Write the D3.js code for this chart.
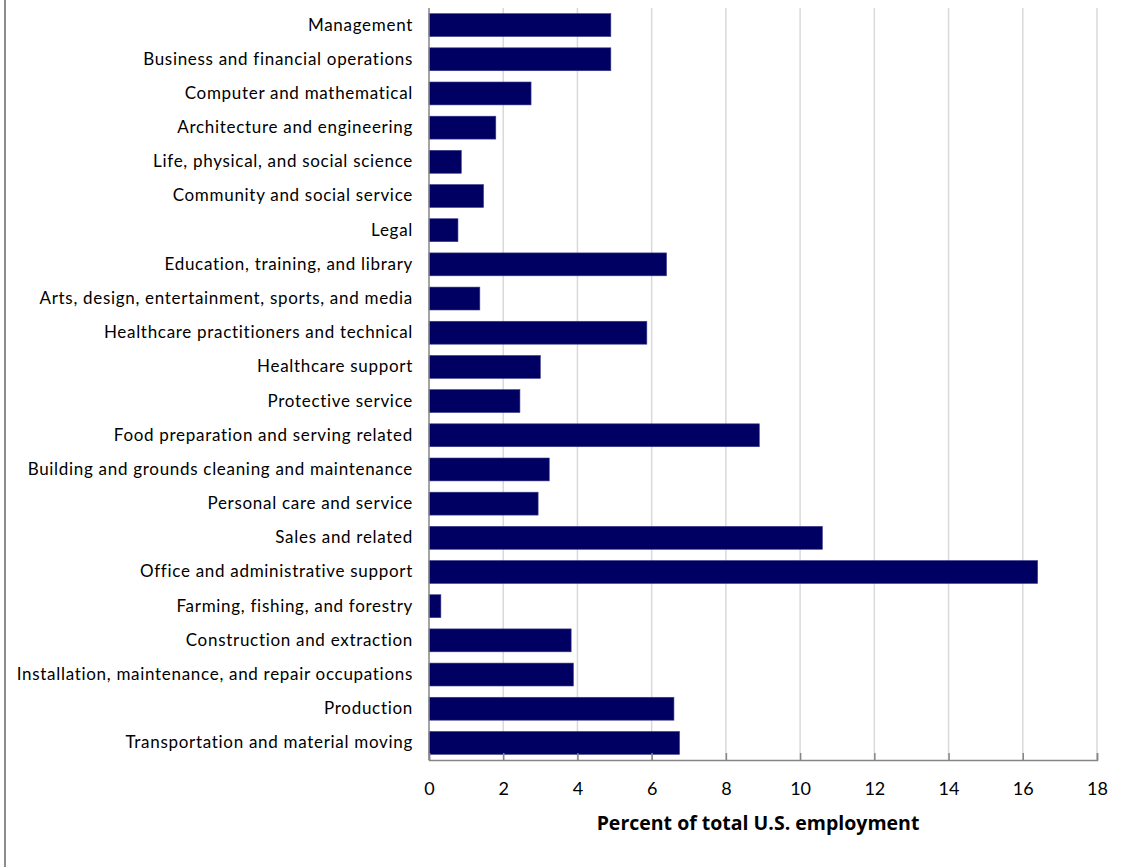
<!DOCTYPE html>
<html><head><meta charset="utf-8">
<script src="https://cdn.jsdelivr.net/npm/d3@7"></script>
<style>body{margin:0;background:#fff}svg{display:block}</style>
</head><body>
<svg id="c" width="1147" height="867"></svg>
<script>
const categories = [
  "Management","Business and financial operations","Computer and mathematical",
  "Architecture and engineering","Life, physical, and social science",
  "Community and social service","Legal","Education, training, and library",
  "Arts, design, entertainment, sports, and media","Healthcare practitioners and technical",
  "Healthcare support","Protective service","Food preparation and serving related",
  "Building and grounds cleaning and maintenance","Personal care and service",
  "Sales and related","Office and administrative support","Farming, fishing, and forestry",
  "Construction and extraction","Installation, maintenance, and repair occupations",
  "Production","Transportation and material moving"
];
const values = [4.9,4.9,2.75,1.8,0.87,1.47,0.78,6.4,1.37,5.87,3.0,2.45,8.9,3.24,2.94,10.6,16.4,0.32,3.83,3.89,6.6,6.75];
const xTicks = [0,2,4,6,8,10,12,14,16,18];
const xTitle = "Percent of total U.S. employment";

(function(){
const svg = d3.select("#c");
const pl = 429, pr = 1097, pt = 8, pb = 760;
const x = d3.scaleLinear().domain([0,18]).range([pl,pr]);
const y = d3.scaleBand().domain(categories).range([pt,pb]).paddingInner(0.33).paddingOuter(0.165);

svg.append("line").attr("x1",5).attr("x2",5).attr("y1",0).attr("y2",867)
  .attr("stroke","#8c8c8c").attr("stroke-width",2);

svg.append("g").selectAll("line").data(xTicks.slice(1)).join("line")
  .attr("x1",d=>x(d)).attr("x2",d=>x(d)).attr("y1",pt).attr("y2",pb)
  .attr("stroke","#d9d9d9").attr("stroke-width",1.5);

svg.append("g").selectAll("rect").data(values).join("rect")
  .attr("x",x(0)).attr("y",(d,i)=>y(categories[i]))
  .attr("width",d=>x(d)-x(0)).attr("height",y.bandwidth())
  .attr("fill","#000063").attr("stroke","#3a3a8a").attr("stroke-width",0.6);

const xa = svg.append("g").attr("transform",`translate(0,${pb})`)
  .call(d3.axisBottom(x).tickValues(xTicks).tickSize(-7).tickPadding(0).tickFormat(d3.format("d")));
xa.select(".domain").attr("stroke","#868686").attr("stroke-width",1.5);
xa.selectAll(".tick line").attr("stroke","#868686").attr("stroke-width",1.5);
xa.selectAll("text").attr("y",35).attr("dy",null)
  .attr("font-family","Lato, 'Open Sans', sans-serif").attr("font-size",18).attr("fill","#000");

svg.append("line").attr("x1",pl).attr("x2",pl).attr("y1",pt).attr("y2",pb)
  .attr("stroke","#868686").attr("stroke-width",1.5);

const ya = svg.append("g").attr("transform",`translate(${pl},0)`)
  .call(d3.axisLeft(y).tickSize(0).tickPadding(16));
ya.select(".domain").remove();
ya.selectAll("text").attr("font-family","Lato, 'Open Sans', sans-serif").attr("font-size",17)
  .attr("letter-spacing","0.7px").attr("fill","#000");

svg.append("text").attr("x",758).attr("y",830).attr("text-anchor","middle")
  .attr("font-family","'Open Sans', Lato, sans-serif").attr("font-weight","bold").attr("font-size",19.5)
  .attr("fill","#000").text(xTitle);
})();
</script>
</body></html>
